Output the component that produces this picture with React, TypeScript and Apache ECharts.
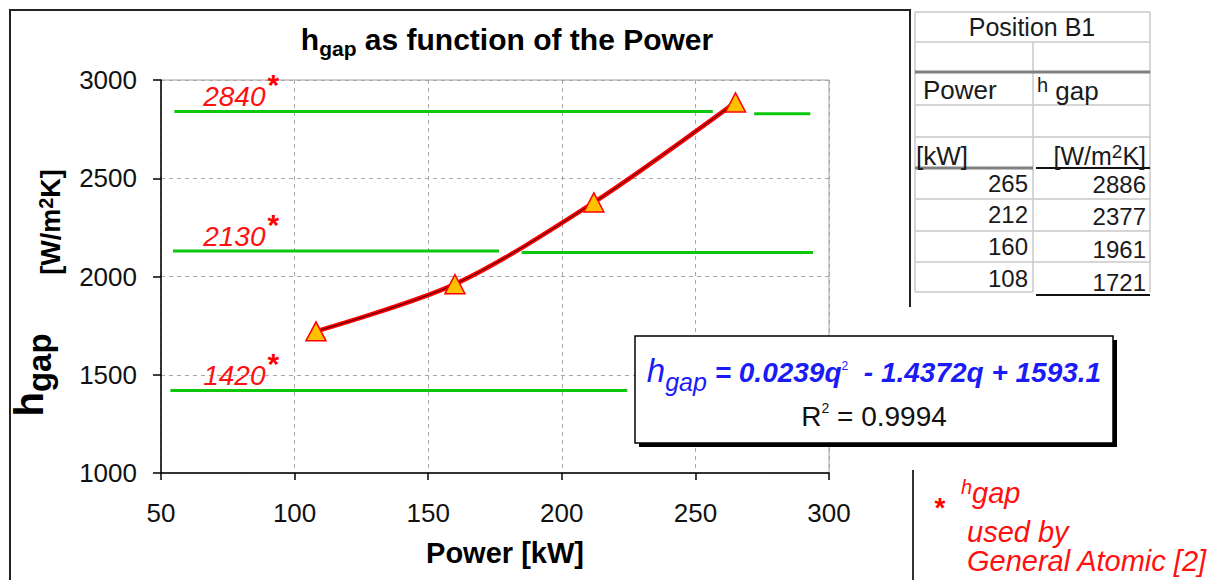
import React, { useEffect, useRef } from 'react';
import * as echarts from 'echarts';

const powers = [108, 160, 212, 265];
const hgapValues = [1721, 1961, 2377, 2886];
const xMin = 50;
const xMax = 300;
const xStep = 50;
const yMin = 1000;
const yMax = 3000;
const yStep = 500;
const gaLevels = [2840, 2130, 1420];
const gaLineStarts = [55, 272, 54.5, 185, 53.5];
const gaLineEnds = [256.5, 293, 176.5, 294, 224.5];
const gaLineLevels = [2840, 2828, 2130, 2122, 1420];
const gaLabelX = 80;
const coefA = '0.0239';
const coefB = '1.4372';
const coefC = '1593.1';
const rSquared = '0.9994';
const tableTitle = 'Position B1';

const F = '"Liberation Sans", Arial, Helvetica, sans-serif';
const BLUE = '#1b1bf5';
const RED = '#ff1010';

function line(x1: number, y1: number, x2: number, y2: number, stroke: string, lineWidth: number) {
  return { type: 'line', silent: true, z: 100, shape: { x1, y1, x2, y2 }, style: { stroke, lineWidth } };
}

function text(x: number, y: number, t: string, style: any, extra: any = {}) {
  return { type: 'text', silent: true, z: 102, x, y, ...extra, style: { text: t, fontFamily: F, ...style } };
}

export default function App() {
  const ref = useRef<HTMLDivElement>(null);
  useEffect(() => {
    const chart = echarts.init(ref.current!, null, { renderer: 'svg' });
    const pts = powers.map((p, i) => [p, hgapValues[i]]);
    const gaSeries = gaLineLevels.map((lv, i) => ({
      type: 'line',
      silent: true,
      data: [[gaLineStarts[i], lv], [gaLineEnds[i], lv]],
      symbol: 'none',
      lineStyle: { color: '#0cc80c', width: 3 },
      z: 2,
    }));

    const tableRowsY = [183, 214, 246, 278];
    const tableP = [...powers].reverse();
    const tableH = [...hgapValues].reverse();

    const graphic: any[] = [
      // chart frame
      line(9, 10, 911, 10, '#222', 2),
      line(10, 9, 10, 580, '#222', 2),
      line(910, 9, 910, 307, '#222', 2),
      line(913, 470, 913, 580, '#333', 2),
      // title
      text(507, 44, '{m|h}{s|gap}{m| as function of the Power}', {
        align: 'center', verticalAlign: 'middle', fill: '#000',
        rich: {
          m: { fontSize: 30, fontWeight: 'bold', lineHeight: 30, padding: [0, 0, 5, 0], verticalAlign: 'bottom', fill: '#000', fontFamily: F },
          s: { fontSize: 21, fontWeight: 'bold', lineHeight: 21, verticalAlign: 'bottom', fill: '#000', fontFamily: F },
        },
      }),
      // y titles
      text(36, 375, '{m|h}{s|gap}', {
        align: 'center', verticalAlign: 'middle', fill: '#000',
        rich: {
          m: { fontSize: 40, fontWeight: 'bold', lineHeight: 40, padding: [0, 0, 7, 0], verticalAlign: 'bottom', fill: '#000', fontFamily: F },
          s: { fontSize: 33, fontWeight: 'bold', lineHeight: 33, verticalAlign: 'bottom', fill: '#000', fontFamily: F },
        },
      }, { rotation: Math.PI / 2 }),
      text(51, 222, '{m|[W/m}{p|2}{m|K]}', {
        align: 'center', verticalAlign: 'middle', fill: '#000',
        rich: {
          m: { fontSize: 27, fontWeight: 'bold', lineHeight: 27, verticalAlign: 'bottom', fill: '#000', fontFamily: F },
          p: { fontSize: 20, fontWeight: 'bold', lineHeight: 20, padding: [0, 0, 9, 0], verticalAlign: 'bottom', fill: '#000', fontFamily: F },
        },
      }, { rotation: Math.PI / 2 }),
      // x title
      text(505, 553, 'Power [kW]', { fontSize: 29, fontWeight: 'bold', align: 'center', verticalAlign: 'middle', fill: '#000' }),
      // equation box
      { type: 'rect', silent: true, z: 100, shape: { x: 639, y: 340, width: 478, height: 107 }, style: { fill: '#000' } },
      { type: 'rect', silent: true, z: 101, shape: { x: 635, y: 336, width: 478, height: 107 }, style: { fill: '#fff', stroke: '#000', lineWidth: 1.5 } },
      text(874, 394, `{h|h}{g|gap}{m| = ${coefA}q}{p|2}{m|  - ${coefB}q + ${coefC}}`, {
        align: 'center', verticalAlign: 'bottom', fill: BLUE,
        rich: {
          h: { fontSize: 33, fontStyle: 'italic', lineHeight: 33, padding: [0, 0, 7, 0], verticalAlign: 'bottom', fill: BLUE, fontFamily: F },
          g: { fontSize: 25, fontStyle: 'italic', lineHeight: 25, verticalAlign: 'bottom', fill: BLUE, fontFamily: F },
          m: { fontSize: 28, fontStyle: 'italic', fontWeight: 'bold', lineHeight: 28, padding: [0, 0, 7.5, 0], verticalAlign: 'bottom', fill: BLUE, fontFamily: F },
          p: { fontSize: 12, lineHeight: 12, padding: [0, 0, 22, 0], verticalAlign: 'bottom', fill: BLUE, fontFamily: F },
        },
      }),
      text(874, 430, `{m|R}{p|2}{m| = ${rSquared}}`, {
        align: 'center', verticalAlign: 'bottom', fill: '#111',
        rich: {
          m: { fontSize: 28, lineHeight: 28, verticalAlign: 'bottom', fill: '#111', fontFamily: F },
          p: { fontSize: 14, lineHeight: 14, padding: [0, 0, 15, 0], verticalAlign: 'bottom', fill: '#111', fontFamily: F },
        },
      }),
      // table grid
      line(915, 12, 1150, 12, '#c8c8c8', 1.5),
      line(915, 42, 1150, 42, '#c8c8c8', 1.5),
      line(915, 105, 1150, 105, '#c8c8c8', 1.5),
      line(915, 137, 1150, 137, '#c8c8c8', 1.5),
      line(915, 199, 1150, 199, '#c8c8c8', 1.5),
      line(915, 231, 1150, 231, '#c8c8c8', 1.5),
      line(915, 262, 1150, 262, '#c8c8c8', 1.5),
      line(915, 292, 1033, 292, '#c8c8c8', 1.5),
      line(915, 12, 915, 292, '#c8c8c8', 1.5),
      line(1150, 12, 1150, 292, '#c8c8c8', 1.5),
      line(1033, 42, 1033, 292, '#c8c8c8', 1.5),
      line(915, 72, 1150, 72, '#808080', 3),
      line(915, 168, 1033, 168, '#808080', 3),
      line(1036, 168, 1150, 168, '#111', 2),
      line(1036, 295, 1150, 295, '#111', 2),
      text(1032, 27, tableTitle, { fontSize: 25, align: 'center', verticalAlign: 'middle', fill: '#1a1a1a' }),
      text(923, 90, 'Power', { fontSize: 26, align: 'left', verticalAlign: 'middle', fill: '#1a1a1a' }),
      text(1037, 104, '{h|h}{g| gap}', {
        align: 'left', verticalAlign: 'bottom', fill: '#1a1a1a',
        rich: {
          h: { fontSize: 20, lineHeight: 20, padding: [0, 0, 9, 0], verticalAlign: 'bottom', fill: '#1a1a1a', fontFamily: F },
          g: { fontSize: 26, lineHeight: 26, verticalAlign: 'bottom', fill: '#1a1a1a', fontFamily: F },
        },
      }),
      text(916, 156, '[kW]', { fontSize: 26, align: 'left', verticalAlign: 'middle', fill: '#1a1a1a' }),
      text(1146, 156, '{m|[W/m}{p|2}{m|K]}', {
        align: 'right', verticalAlign: 'middle', fill: '#1a1a1a',
        rich: {
          m: { fontSize: 25, lineHeight: 25, verticalAlign: 'bottom', fill: '#1a1a1a', fontFamily: F },
          p: { fontSize: 19, lineHeight: 19, padding: [0, 0, 8, 0], verticalAlign: 'bottom', fill: '#1a1a1a', fontFamily: F },
        },
      }),
      ...tableP.map((p, i) => text(1028, tableRowsY[i], String(p), { fontSize: 24, align: 'right', verticalAlign: 'middle', fill: '#1a1a1a' })),
      ...tableH.map((h, i) => text(1146, tableRowsY[i] + 1 + i, String(h), { fontSize: 24, align: 'right', verticalAlign: 'middle', fill: '#1a1a1a' })),
      // legend
      text(940, 507, '*', { fontSize: 28, fontWeight: 'bold', align: 'center', verticalAlign: 'middle', fill: '#ff0000' }),
      text(961, 507, '{h|h}{g|gap}', {
        align: 'left', verticalAlign: 'bottom', fill: RED,
        rich: {
          h: { fontSize: 20, fontStyle: 'italic', lineHeight: 20, padding: [0, 0, 10, 0], verticalAlign: 'bottom', fill: RED, fontFamily: F },
          g: { fontSize: 29, fontStyle: 'italic', lineHeight: 29, verticalAlign: 'bottom', fill: RED, fontFamily: F },
        },
      }),
      text(967, 532, 'used by', { fontSize: 29, fontStyle: 'italic', align: 'left', verticalAlign: 'middle', fill: RED }),
      text(967, 561, 'General Atomic [2]', { fontSize: 29, fontStyle: 'italic', align: 'left', verticalAlign: 'middle', fill: RED }),
    ];

    chart.setOption({
      animation: false,
      backgroundColor: '#fff',
      grid: { left: 161, top: 80, width: 668, height: 393, show: true, borderColor: '#a0a0a0', borderWidth: 1, backgroundColor: 'transparent' },
      xAxis: {
        type: 'value', min: xMin, max: xMax, interval: xStep,
        axisLine: { show: true, onZero: false, lineStyle: { color: '#000', width: 1.5 } },
        axisTick: { show: true, length: 7, lineStyle: { color: '#000', width: 1.5 } },
        axisLabel: { fontSize: 26, color: '#111', margin: 27, fontFamily: F, formatter: (v: number) => String(v) },
        splitLine: { show: true, lineStyle: { color: '#a8a8a8', type: [4, 4], width: 1 } },
      },
      yAxis: {
        type: 'value', min: yMin, max: yMax, interval: yStep,
        axisLine: { show: true, onZero: false, lineStyle: { color: '#000', width: 1.5 } },
        axisTick: { show: true, length: 8, lineStyle: { color: '#000', width: 1.5 } },
        axisLabel: { fontSize: 26, color: '#111', margin: 24, fontFamily: F, formatter: (v: number) => String(v) },
        splitLine: { show: true, lineStyle: { color: '#a8a8a8', type: [4, 4], width: 1 } },
      },
      series: [
        ...gaSeries,
        {
          type: 'scatter', silent: true,
          data: gaLevels.map((v) => [gaLabelX, v]),
          symbol: 'circle', symbolSize: 1, itemStyle: { color: '#ffffff', opacity: 1 }, z: 1,
          label: {
            show: true, position: 'top', distance: 0, opacity: 1, color: RED,
            textBorderWidth: 0,
            formatter: (p: any) => `{n|${p.value[1]}}{s|*}`,
            rich: {
              n: { fontSize: 28, fontStyle: 'italic', color: RED, opacity: 1, textBorderWidth: 0, fontFamily: F, lineHeight: 28, verticalAlign: 'bottom' },
              s: { fontSize: 30, fontWeight: 'bold', color: '#ff0000', opacity: 1, textBorderWidth: 0, fontFamily: F, lineHeight: 30, padding: [0, 0, 11, 2], verticalAlign: 'bottom' },
            },
          },
        },
        {
          type: 'line', silent: true, data: pts, smooth: 0.3, symbol: 'none',
          lineStyle: { color: '#ff0000', width: 4.5 }, z: 4,
        },
        {
          type: 'line', silent: true, data: pts, smooth: 0.3, symbol: 'none',
          lineStyle: { color: '#000', width: 0.8 }, z: 5,
        },
        {
          type: 'scatter', silent: true, data: pts, symbol: 'triangle', symbolSize: [20, 19],
          itemStyle: { color: '#ffc000', borderColor: '#ff0000', borderWidth: 1.5, opacity: 1 }, z: 6,
        },
      ],
      graphic,
    });
    return () => chart.dispose();
  }, []);
  return <div ref={ref} style={{ position: 'absolute', left: 0, top: 0, width: 1219, height: 580, background: '#fff' }} />;
}
